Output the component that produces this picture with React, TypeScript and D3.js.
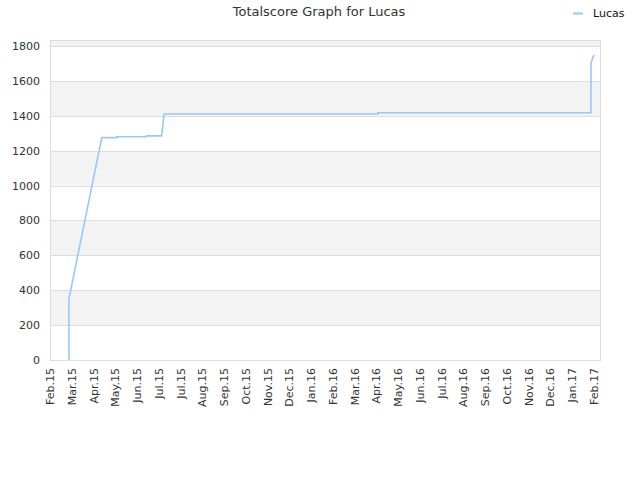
import React from "react";
import * as d3 from "d3";

const tickLabels = ["Feb.15","Mar.15","Apr.15","May.15","Jun.15","Jul.15","Jul.15","Aug.15","Sep.15","Oct.15","Nov.15","Dec.15","Jan.16","Feb.16","Mar.16","Apr.16","May.16","Jun.16","Jul.16","Aug.16","Sep.16","Oct.16","Nov.16","Dec.16","Jan.17","Feb.17"];
const yTicks = [0,200,400,600,800,1000,1200,1400,1600,1800];
// x in tick-index units, y = total score
const seriesX = [0.87,0.87,2.38,3.07,3.07,4.44,4.44,5.13,5.24,15.07,15.07,24.86,24.86,24.92,25.0];
const seriesY = [0,350,1275,1275,1280,1280,1285,1285,1410,1410,1417,1417,1700,1725,1748];

const W = 640, H = 480;
const L = 50, R = 600, T = 40, B = 360;

export default function App() {
  const x = d3.scaleLinear().domain([0, tickLabels.length - 1]).range([L, 594]);
  const y = d3.scaleLinear().domain([0, 1800]).range([B, 46]);
  const pts = seriesX.map((v, i) => [v, seriesY[i]] as [number, number]);
  const line = d3.line<[number, number]>().x(d => x(d[0])).y(d => y(d[1]));
  const font = "DejaVu Sans, sans-serif";
  const bands: [number, number][] = [];
  const edges = [...yTicks.map(v => y(v)), T];
  for (let i = 0; i < edges.length - 1; i++) {
    if (i % 2 === 1) bands.push([edges[i + 1], edges[i]]);
  }
  return (
    <svg width={W} height={H} style={{ position: "absolute", left: 0, top: 0, background: "#fff" }}>
      <rect x={0} y={0} width={W} height={H} fill="#fff" />
      <text x={319} y={16} textAnchor="middle" fontFamily={font} fontSize={13} fill="#333">Totalscore Graph for Lucas</text>
      <line x1={573} x2={583} y1={13.5} y2={13.5} stroke="#99c8f5" strokeWidth={2} />
      <text x={593} y={17} fontFamily={font} fontSize={11} fill="#111">Lucas</text>
      {bands.map((b, i) => (
        <rect key={i} x={L} y={b[0]} width={R - L} height={b[1] - b[0]} fill="#f3f3f3" />
      ))}
      {yTicks.map((v, i) => (
        <g key={i}>
          <line x1={L} x2={R} y1={Math.round(y(v)) + 0.5} y2={Math.round(y(v)) + 0.5} stroke="#dddddd" strokeWidth={1} />
          <text x={40} y={y(v) + 4} textAnchor="end" fontFamily={font} fontSize={11} fill="#333">{v}</text>
        </g>
      ))}
      <rect x={L + 0.5} y={T + 0.5} width={R - L} height={B - T} fill="none" stroke="#dddddd" />
      {tickLabels.map((t, i) => (
        <text key={i} transform={`translate(${x(i) + 4},${368}) rotate(-90)`} textAnchor="end" fontFamily={font} fontSize={11} fill="#333">{t}</text>
      ))}
      <path d={line(pts) || ""} fill="none" stroke="#99c8f5" strokeWidth={1.6} />
    </svg>
  );
}
